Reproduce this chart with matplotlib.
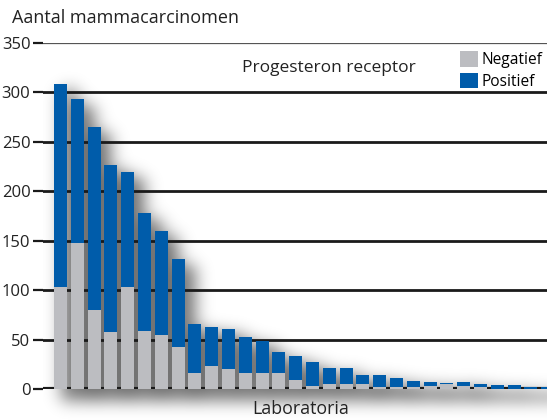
import numpy as np
import matplotlib
matplotlib.use("Agg")
import matplotlib.pyplot as plt

plt.rcParams['font.family'] = ['Open Sans', 'DejaVu Sans']

# Data (30 laboratories)
labs = np.arange(30)
negatief = [103, 148, 80, 58, 103, 59, 55, 42, 16, 23, 20, 16, 16, 16, 9,
            3, 5, 5, 5, 2, 2, 2, 3, 5, 3, 2, 0, 0, 0, 0]
positief = [206, 145, 185, 169, 117, 119, 105, 89, 50, 40, 41, 37, 33, 21, 24,
            24, 16, 16, 9, 12, 9, 6, 4, 1, 4, 3, 4, 4, 2, 2]
yticks = [0, 50, 100, 150, 200, 250, 300, 350]

GRAY = '#bcbdc1'
BLUE = '#005caa'

fig = plt.figure(figsize=(5.47, 4.20), dpi=100)
ax = fig.add_axes([43 / 547, 31 / 420, 504 / 547, 346 / 420])

xmin, xmax = -1.04, 28.96
ymin, ymax = 0, 350
ax.set_xlim(xmin, xmax)
ax.set_ylim(ymin, ymax)

# soft drop shadow behind the bars, built from the bar heights
tot = np.array(negatief) + np.array(positief)
nx, ny = 560, 420
xs = np.linspace(xmin, xmax + 2, nx)
ys = np.linspace(-32, ymax, ny)
X, Y = np.meshgrid(xs, ys)
mask = np.zeros_like(X)
for i, h in enumerate(tot):
    inside = (np.abs(X - (i + 0.5)) < 0.45) & (Y < h - 6) & (Y > -12)
    mask[inside] = 1.0

def blur(a, sigma, axis):
    r = int(3 * sigma)
    k = np.exp(-0.5 * (np.arange(-r, r + 1) / sigma) ** 2)
    k /= k.sum()
    return np.apply_along_axis(lambda m: np.convolve(m, k, mode='same'), axis, a)

shadow = blur(blur(mask, 9, 1), 9, 0)
rgba = np.zeros((ny, nx, 4))
rgba[..., 3] = np.clip(shadow * 0.6, 0, 1)
ax.imshow(rgba, extent=[xmin, xmax + 2, -32, ymax], origin='lower',
          aspect='auto', zorder=0.5, clip_on=False, interpolation='bilinear')

# grid lines
for t in yticks[1:-1]:
    ax.axhline(t, color='#1a1a1a', lw=2.0, zorder=1)
ax.axhline(350, color='#555555', lw=0.9, zorder=1)
ax.axhline(0, color='#1a1a1a', lw=3.0, zorder=1)

ax.bar(labs, negatief, width=0.77, color=GRAY, zorder=2, label='Negatief')
ax.bar(labs, positief, bottom=negatief, width=0.77, color=BLUE, zorder=2,
       label='Positief')

for s in ax.spines.values():
    s.set_visible(False)
ax.set_xticks([])
ax.set_yticks(yticks)
ax.tick_params(axis='y', length=7, width=1.6, color='#1a1a1a', pad=2,
               labelsize=12, labelcolor='#222222')

fig.text(12 / 547, 1 - 18 / 420, 'Aantal mammacarcinomen', fontsize=13,
         color='#222222', va='center', ha='left')
fig.text(329 / 547, 1 - 68 / 420, 'Progesteron receptor', fontsize=12.5,
         color='#222222', va='center', ha='center')
fig.text(301 / 547, 1 - 409 / 420, 'Laboratoria', fontsize=12.8,
         color='#222222', va='center', ha='center')

ax.legend(loc='upper right', bbox_to_anchor=(1.0, 0.99), frameon=False,
          fontsize=11.2, handlelength=1.15, handleheight=1.15,
          handletextpad=0.2, labelspacing=0.3, borderpad=0.1,
          borderaxespad=0.2)

fig.savefig('out.png', dpi=100)
